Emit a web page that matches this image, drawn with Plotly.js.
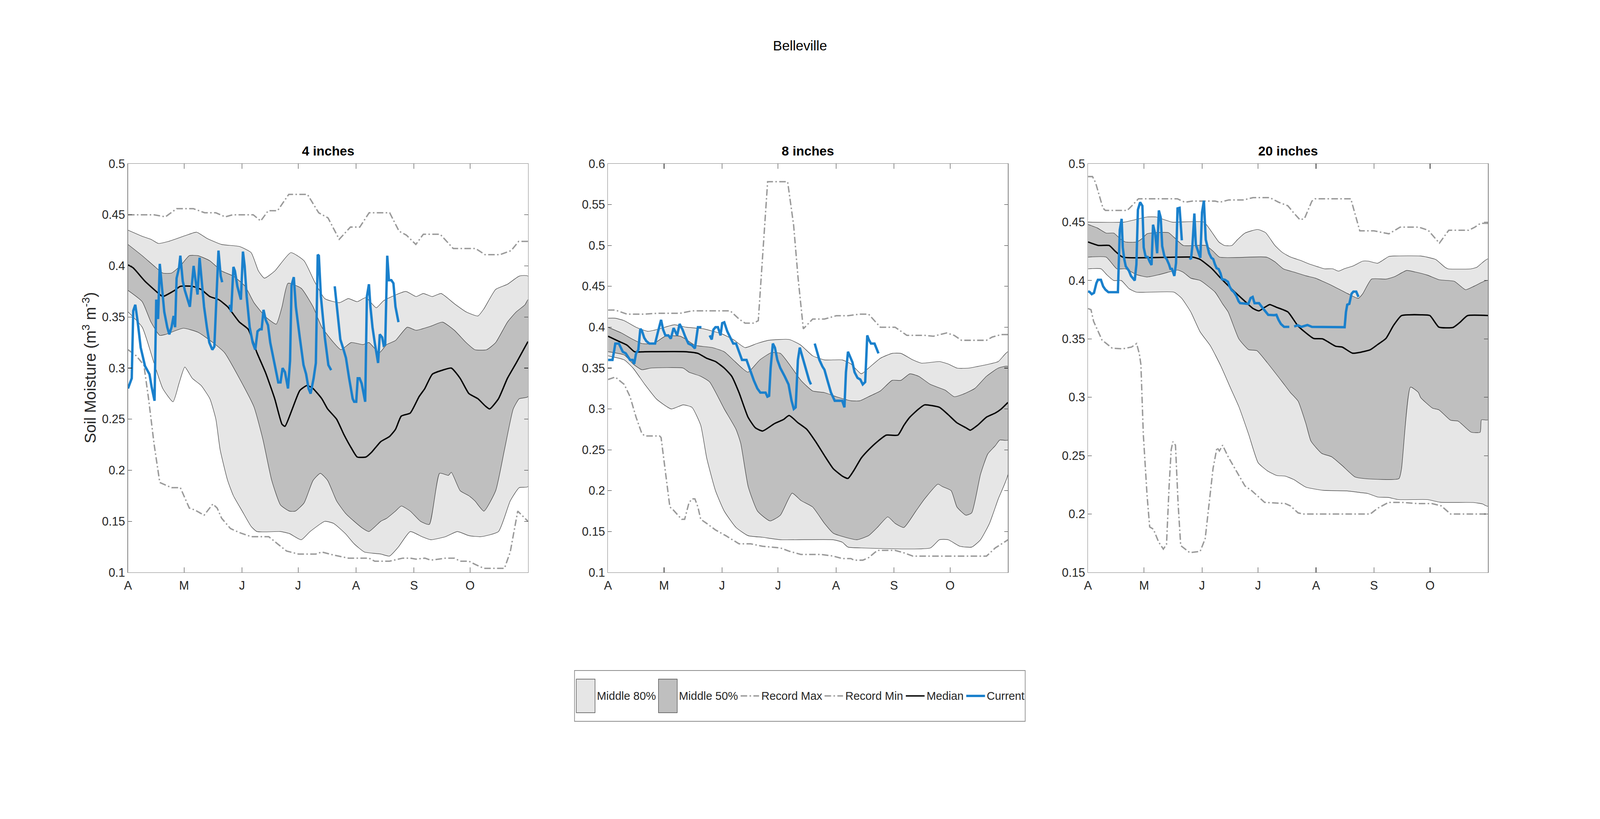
<!DOCTYPE html>
<html>
<head>
<meta charset="utf-8">
<script src="https://cdn.plot.ly/plotly-3.0.1.min.js"></script>
<style>
  html, body { margin: 0; padding: 0; background: #fff; overflow: hidden; }
</style>
</head>
<body>
<div id="chart"></div>
<script>
// x is days since April 1
const monthStarts = [0, 30, 61, 91, 122, 153, 183];
const monthLabels = ["A", "M", "J", "J", "A", "S", "O"];

// ---- 4 inches ----
const s4MaxDay = [0, 14, 20, 26, 35, 41, 47, 52, 56, 67, 71, 75, 80, 86, 96, 102, 107, 113, 119, 124, 129, 140, 145, 149, 154, 158, 167, 174, 186, 191, 199, 205, 209, 214];
const s4Max = [0.450, 0.450, 0.448, 0.456, 0.456, 0.452, 0.452, 0.448, 0.450, 0.450, 0.444, 0.454, 0.454, 0.470, 0.470, 0.452, 0.447, 0.426, 0.438, 0.438, 0.452, 0.452, 0.434, 0.430, 0.421, 0.431, 0.431, 0.417, 0.417, 0.411, 0.411, 0.415, 0.424, 0.424];
const s4MinDay = [0, 4.4, 8.5, 11, 14, 17, 23.3, 28, 32.8, 35.9, 40.7, 45.4, 47.7, 50.1, 54.8, 59.6, 65.9, 75.3, 80, 84.8, 91.1, 100.5, 103.7, 110, 117.9, 128.9, 132, 139.9, 147, 151, 154.1, 158.8, 162, 169.9, 174.6, 177.7, 182.4, 185.6, 190.4, 201.4, 204.5, 208.5, 214];
const s4Min = [0.318, 0.312, 0.303, 0.270, 0.225, 0.188, 0.183, 0.183, 0.163, 0.161, 0.156, 0.167, 0.163, 0.153, 0.143, 0.139, 0.135, 0.135, 0.128, 0.121, 0.118, 0.118, 0.120, 0.117, 0.114, 0.114, 0.111, 0.111, 0.114, 0.114, 0.113, 0.114, 0.112, 0.114, 0.114, 0.111, 0.111, 0.108, 0.104, 0.104, 0.120, 0.160, 0.150];
const s4Hi80Day = [0, 7.6, 12.3, 16.2, 21.7, 31.2, 36.7, 42.2, 50.1, 59.6, 65.9, 69.8, 73, 78.5, 87.1, 94.2, 99.7, 105.3, 113.1, 117.9, 122.6, 127.3, 132.8, 136.8, 148.6, 154.1, 158, 162.8, 167.5, 174.6, 180.9, 187.2, 190.4, 196.7, 203, 209.3, 214];
const s4Hi80 = [0.435, 0.429, 0.426, 0.422, 0.424, 0.430, 0.433, 0.427, 0.421, 0.419, 0.413, 0.395, 0.388, 0.395, 0.413, 0.405, 0.385, 0.368, 0.364, 0.368, 0.365, 0.369, 0.359, 0.366, 0.375, 0.370, 0.373, 0.370, 0.373, 0.363, 0.355, 0.351, 0.358, 0.377, 0.382, 0.390, 0.390];
const s4Lo80Day = [0, 7.6, 13.9, 18.6, 24.1, 27.3, 30.4, 34.4, 39.1, 43.8, 47, 49.3, 53.3, 56.4, 61.1, 65.9, 69, 81.6, 86.4, 92.7, 97.4, 105.3, 110, 116.3, 121, 126.5, 135.2, 139.9, 144.7, 151, 157.3, 162, 169.9, 176.2, 182.4, 188.8, 198.2, 204.5, 209.3, 214];
const s4Lo80 = [0.355, 0.340, 0.305, 0.280, 0.267, 0.285, 0.301, 0.290, 0.283, 0.270, 0.250, 0.220, 0.190, 0.175, 0.160, 0.145, 0.140, 0.140, 0.138, 0.132, 0.140, 0.150, 0.148, 0.138, 0.128, 0.120, 0.118, 0.116, 0.125, 0.140, 0.135, 0.132, 0.135, 0.140, 0.136, 0.135, 0.140, 0.170, 0.183, 0.184];
const s4Hi50Day = [0, 7.6, 13.9, 18.6, 23.3, 28, 32.8, 37.5, 43.8, 50.1, 56.4, 62.7, 67.4, 73.7, 79.3, 82.4, 85.6, 92.7, 99, 103.7, 110, 113.9, 119.4, 125.7, 128.9, 134.4, 138.4, 143.1, 149.4, 154.1, 162, 168.3, 174.6, 180.9, 185.6, 191.9, 196.7, 203, 207.7, 212.4, 214];
const s4Hi50 = [0.421, 0.410, 0.400, 0.393, 0.393, 0.400, 0.410, 0.410, 0.405, 0.395, 0.390, 0.380, 0.364, 0.350, 0.343, 0.360, 0.383, 0.378, 0.360, 0.340, 0.325, 0.318, 0.325, 0.323, 0.325, 0.315, 0.323, 0.327, 0.340, 0.337, 0.341, 0.345, 0.337, 0.325, 0.318, 0.318, 0.325, 0.345, 0.355, 0.362, 0.367];
const s4Lo50Day = [0, 7.6, 12.3, 17, 20.2, 29.6, 37.5, 45.4, 51.7, 59.6, 67.4, 72.2, 76.9, 81.6, 86.4, 89.5, 94.2, 99, 102.9, 106.8, 111.6, 116.3, 121, 125.7, 128.9, 135.2, 138.4, 143.1, 146.2, 151, 156.5, 161.2, 166.7, 171.4, 173, 177.7, 182.4, 185.6, 190.4, 196.7, 201.4, 206.1, 209.3, 214];
const s4Lo50 = [0.376, 0.365, 0.345, 0.332, 0.333, 0.339, 0.335, 0.325, 0.315, 0.290, 0.262, 0.230, 0.190, 0.166, 0.160, 0.160, 0.168, 0.190, 0.197, 0.190, 0.170, 0.158, 0.150, 0.143, 0.140, 0.150, 0.153, 0.160, 0.165, 0.160, 0.150, 0.147, 0.197, 0.195, 0.198, 0.180, 0.175, 0.170, 0.160, 0.180, 0.220, 0.260, 0.270, 0.272];
const s4MedDay = [0, 2.8, 9.1, 17, 18.6, 24.9, 28, 34.4, 39.1, 43.8, 48.5, 53.3, 59.6, 64.3, 69, 73.7, 78.5, 82.4, 84, 87.9, 91.9, 95.8, 99, 103.7, 106.8, 111.6, 115.5, 119.4, 122.6, 127.3, 130.5, 135.2, 139.9, 143.1, 146.2, 151, 155.7, 158.8, 162.8, 168.3, 173, 177.7, 182.4, 187.2, 191.1, 193.5, 198.2, 203, 207.7, 211.6, 214];
const s4Med = [0.401, 0.398, 0.385, 0.372, 0.370, 0.376, 0.380, 0.380, 0.377, 0.370, 0.367, 0.360, 0.345, 0.338, 0.315, 0.295, 0.270, 0.245, 0.243, 0.260, 0.278, 0.283, 0.280, 0.270, 0.260, 0.250, 0.235, 0.222, 0.213, 0.213, 0.218, 0.228, 0.233, 0.240, 0.253, 0.256, 0.272, 0.280, 0.294, 0.298, 0.300, 0.290, 0.275, 0.270, 0.263, 0.260, 0.270, 0.290, 0.305, 0.318, 0.326];
const s4CurDay = [0, 2, 2.8, 3.9, 5.2, 6.8, 9.1, 11.5, 12.6, 14.2, 15.1, 16.1, 17, 18.3, 19.4, 21, 22.1, 23.3, 24.4, 25.2, 26, 27.3, 28, 29.3, 30.4, 33.1, 34.4, 35.1, 36.2, 37.2, 38.3, 39.4, 40.7, 42.2, 43.5, 45.1, 46.2, 48.4, 49.6, 50.4, null,
  54.4, 55.2, 56.4, 57.2, 58.5, 60.4, 61.5, 62.4, 63.5, 65.1, 66.7, 68.1, 69.3, 70.6, 71.5, 72.5, 73.7, 74.9, 76.1, 78.5, 80.4, 81.6, 82.7, 84, 85.6, 86.7, 87.5, 88.7, 89.8, 91.9, 93.9, 95.3, 96.6, 97.7, 99.3, 100.5, 101.5, 102.1, 103.2, 105.3, 107.2, 108.7, null,
  110.6, 112, 113.6, 115, 116.6, 118.3, 120.2, 121, 122.1, 122.9, 123.9, 125, 126.1, 126.9, 127.8, 128.9, 129.7, 130.8, 132, 132.8, 133.8, 134.7, 136, 136.8, 137.6, 138.7, 139.6, 140.9, 142, 143.1, 144.7];
const s4Cur = [0.280, 0.290, 0.356, 0.362, 0.345, 0.320, 0.302, 0.294, 0.282, 0.268, 0.367, 0.348, 0.402, 0.375, 0.355, 0.340, 0.333, 0.340, 0.351, 0.340, 0.388, 0.398, 0.410, 0.385, 0.376, 0.360, 0.385, 0.400, 0.385, 0.372, 0.408, 0.385, 0.360, 0.340, 0.325, 0.318, 0.321, 0.415, 0.390, 0.384, null,
  0.362, 0.355, 0.399, 0.395, 0.380, 0.367, 0.414, 0.400, 0.370, 0.340, 0.325, 0.318, 0.336, 0.338, 0.338, 0.357, 0.347, 0.342, 0.325, 0.303, 0.286, 0.286, 0.300, 0.296, 0.280, 0.307, 0.381, 0.389, 0.360, 0.330, 0.303, 0.294, 0.280, 0.275, 0.290, 0.305, 0.411, 0.410, 0.370, 0.330, 0.303, 0.298, null,
  0.380, 0.355, 0.328, 0.320, 0.310, 0.290, 0.270, 0.267, 0.267, 0.290, 0.290, 0.285, 0.275, 0.267, 0.370, 0.382, 0.360, 0.340, 0.325, 0.315, 0.305, 0.333, 0.330, 0.322, 0.323, 0.410, 0.386, 0.386, 0.383, 0.360, 0.345];

// ---- 8 inches ----
const s8MaxDay = [0, 3.9, 10.2, 19.7, 26, 38.6, 44.9, 65.4, 70.1, 73.3, 78, 80.4, 85.4, 96.1, 99.3, 101.7, 104.5, 109.5, 115.8, 122.1, 128.4, 134.7, 139.4, 142.6, 145.7, 153.6, 159.9, 169.4, 174.1, 181.2, 185.2, 189.1, 202.5, 205.6, 210.4, 214];
const s8Max = [0.421, 0.421, 0.416, 0.416, 0.417, 0.417, 0.420, 0.420, 0.410, 0.405, 0.405, 0.408, 0.578, 0.578, 0.525, 0.460, 0.398, 0.410, 0.410, 0.414, 0.414, 0.416, 0.416, 0.408, 0.400, 0.400, 0.390, 0.390, 0.389, 0.393, 0.390, 0.384, 0.384, 0.388, 0.391, 0.391];
const s8MinDay = [0, 3.9, 8.7, 11.8, 15, 18.1, 19.7, 27.6, 28.4, 30.4, 33.1, 34.7, 39.4, 41, 43.3, 44.9, 46.5, 48.1, 49.6, 52.8, 57.5, 63, 70.1, 76.4, 82.7, 92.2, 96.9, 103.2, 114.2, 120.5, 125.3, 130, 131.6, 136.3, 139.4, 144.1, 153.6, 158.3, 163.1, 202.5, 207.2, 212.7, 214];
const s8Min = [0.336, 0.339, 0.330, 0.315, 0.290, 0.270, 0.267, 0.267, 0.265, 0.230, 0.180, 0.177, 0.165, 0.165, 0.185, 0.190, 0.190, 0.180, 0.165, 0.160, 0.152, 0.145, 0.135, 0.135, 0.132, 0.130, 0.126, 0.122, 0.122, 0.120, 0.117, 0.117, 0.115, 0.115, 0.118, 0.127, 0.127, 0.124, 0.120, 0.120, 0.130, 0.138, 0.140];
const s8Hi80Day = [0, 3.9, 8.7, 15, 21.3, 27.6, 35.5, 41.8, 51.2, 60.7, 67, 73.3, 79.6, 85.9, 96.9, 103.2, 109.5, 115.8, 125.3, 130, 135.5, 139.4, 145.7, 152, 156.7, 163.1, 167.8, 177.3, 182, 186.7, 193, 197.7, 204.1, 208.8, 214];
const s8Hi80 = [0.411, 0.411, 0.408, 0.400, 0.395, 0.398, 0.403, 0.400, 0.398, 0.392, 0.385, 0.375, 0.380, 0.384, 0.385, 0.378, 0.365, 0.360, 0.360, 0.355, 0.343, 0.350, 0.362, 0.368, 0.368, 0.360, 0.356, 0.358, 0.355, 0.350, 0.350, 0.352, 0.355, 0.358, 0.370];
const s8Lo80Day = [0, 8.7, 13.4, 19.7, 26, 33.9, 40.2, 44.9, 49.6, 52.8, 57.5, 62.2, 68.5, 74.9, 82.7, 92.2, 120.5, 125.3, 128.4, 135.5, 172.5, 177.3, 182, 188.3, 194.6, 199.3, 204.1, 208.8, 214];
const s8Lo80 = [0.365, 0.360, 0.350, 0.330, 0.312, 0.300, 0.305, 0.302, 0.280, 0.240, 0.200, 0.175, 0.155, 0.145, 0.143, 0.140, 0.140, 0.137, 0.131, 0.130, 0.130, 0.140, 0.140, 0.132, 0.131, 0.140, 0.160, 0.190, 0.220];
const s8Hi50Day = [0, 7.1, 13.4, 18.1, 24.4, 30.7, 38.6, 41.8, 46.5, 56, 62.2, 67, 71.7, 74.9, 81.2, 87.5, 92.2, 96.9, 103.2, 109.5, 115.8, 122.1, 130, 134.7, 139.4, 145.7, 152, 156.7, 161.5, 166.2, 172.5, 180.4, 185.2, 189.9, 196.2, 202.5, 208.8, 214];
const s8Hi50 = [0.400, 0.393, 0.385, 0.380, 0.380, 0.389, 0.389, 0.385, 0.378, 0.375, 0.370, 0.360, 0.350, 0.345, 0.360, 0.369, 0.368, 0.355, 0.335, 0.322, 0.320, 0.315, 0.310, 0.310, 0.315, 0.322, 0.335, 0.335, 0.343, 0.340, 0.330, 0.323, 0.315, 0.318, 0.325, 0.340, 0.350, 0.352];
const s8Lo50Day = [0, 8.7, 13.4, 18.1, 22.9, 40.2, 43.3, 49.6, 54.4, 62.2, 68.5, 71, 75, 80, 86.7, 92.2, 98.5, 103.2, 109.5, 115.8, 120.5, 126.9, 133.2, 139.4, 144.1, 149.7, 153.6, 158.3, 164.7, 169.4, 176.5, 178.9, 183.6, 186.7, 191.5, 194.6, 199.3, 203.2, 207.2, 209.6, 214];
const s8Lo50 = [0.370, 0.366, 0.355, 0.348, 0.350, 0.350, 0.345, 0.340, 0.333, 0.300, 0.275, 0.258, 0.205, 0.175, 0.163, 0.170, 0.197, 0.188, 0.180, 0.160, 0.148, 0.143, 0.140, 0.145, 0.155, 0.168, 0.160, 0.155, 0.175, 0.190, 0.208, 0.205, 0.200, 0.180, 0.170, 0.173, 0.220, 0.245, 0.255, 0.262, 0.262];
const s8MedDay = [0, 5.5, 10.2, 14.2, 19.7, 41.8, 48.1, 52.8, 57.5, 62.2, 66.2, 70.1, 74.9, 78.8, 82.7, 89, 93.8, 96.9, 101.7, 106.4, 111.1, 115.8, 120.5, 125.3, 128.4, 131.6, 135.5, 139.4, 144.1, 148.9, 155.1, 158.3, 161.5, 166.2, 169.4, 177.3, 182, 186.7, 191.5, 193.8, 197.7, 202.5, 207.2, 210.4, 214];
const s8Med = [0.389, 0.383, 0.378, 0.370, 0.370, 0.370, 0.368, 0.362, 0.358, 0.350, 0.340, 0.320, 0.290, 0.277, 0.273, 0.282, 0.287, 0.292, 0.283, 0.275, 0.260, 0.243, 0.227, 0.218, 0.215, 0.225, 0.240, 0.250, 0.260, 0.268, 0.268, 0.280, 0.290, 0.300, 0.305, 0.302, 0.293, 0.283, 0.277, 0.274, 0.280, 0.290, 0.295, 0.300, 0.308];
const s8CurDay = [0, 2.4, 3.2, 3.9, 5.8, 7.9, 9.5, 11.8, 13.1, 14, 15, 16.2, 17.3, 18.1, 19.4, 20.5, 22.1, 25.2, 26.8, 28.4, 29.5, 30.7, 32.3, 33.6, 35.1, 37, 38.3, 39.9, 41.4, 43, 44.9, 46.5, 48.1, 50, null,
  54.4, 55.5, 56.4, 57.5, 58.8, 60.2, 61.1, 62.2, 63.8, 65.4, 67, 68.5, 70.1, 71.7, 74.1, 76.4, 78, 79.9, 81.5, 84.3, 85.3, 86.2, 87, 88.2, 89.3, 90.6, 92.2, 94.5, 96.6, 98.2, 99.4, 100.4, 101.6, 102.6, 103.8, 105.6, 106.7, 107.6, 108.6, null,
  110.6, 111.9, 113.1, 114.7, 115.8, 117.4, 119.3, 121.3, 125.3, 126.5, 127.3, 128.4, 130, 130.8, 131.9, 133.5, 135, 136.3, 137.6, 138.7, 139.5, 140.7, 142.6, 144.7];
const s8Cur = [0.360, 0.360, 0.370, 0.380, 0.380, 0.370, 0.368, 0.360, 0.360, 0.355, 0.368, 0.372, 0.398, 0.396, 0.387, 0.383, 0.380, 0.380, 0.395, 0.409, 0.397, 0.390, 0.390, 0.386, 0.399, 0.390, 0.404, 0.397, 0.388, 0.380, 0.378, 0.374, 0.400, 0.400, null,
  0.390, 0.385, 0.397, 0.400, 0.400, 0.390, 0.405, 0.406, 0.395, 0.388, 0.380, 0.380, 0.370, 0.360, 0.360, 0.345, 0.335, 0.325, 0.320, 0.320, 0.315, 0.316, 0.350, 0.380, 0.375, 0.360, 0.350, 0.340, 0.330, 0.310, 0.300, 0.302, 0.360, 0.375, 0.365, 0.350, 0.340, 0.335, 0.330, null,
  0.380, 0.370, 0.360, 0.352, 0.348, 0.335, 0.320, 0.310, 0.310, 0.302, 0.345, 0.370, 0.362, 0.357, 0.345, 0.338, 0.336, 0.330, 0.333, 0.390, 0.385, 0.380, 0.380, 0.368];

// ---- 20 inches ----
const s20MaxDay = [0, 2.4, 4, 6, 8, 9.3, 21, 23.5, 27, 47.8, 51.8, 55.9, 68, 70.4, 75.3, 83.4, 88.3, 97.2, 102, 106.9, 110, 113.4, 115.8, 119.8, 121.5, 140.6, 145.4, 153, 161, 167, 177, 182, 188, 193, 203.6, 207, 210, 214];
const s20Max = [0.489, 0.489, 0.484, 0.473, 0.462, 0.460, 0.460, 0.464, 0.470, 0.470, 0.467, 0.468, 0.468, 0.467, 0.469, 0.469, 0.471, 0.471, 0.467, 0.464, 0.458, 0.452, 0.453, 0.468, 0.470, 0.470, 0.4425, 0.4425, 0.440, 0.4457, 0.4457, 0.443, 0.432, 0.443, 0.443, 0.4457, 0.449, 0.449];
const s20MinDay = [0, 1.6, 3, 7.5, 13, 18.5, 23.3, 26, 27.5, 28.3, 29.6, 31.6, 33, 35, 37.8, 40.3, 42, 43.4, 44.5, 45.4, 46.8, 48.2, 49.6, 54.4, 60, 62.7, 64.8, 66.9, 69, 70.3, 72, 75, 79.3, 84, 87.6, 90.3, 94.5, 105.5, 108.3, 112.4, 115, 151, 155, 160.8, 167.7, 176, 184, 189, 194, 214];
const s20Min = [0.376, 0.375, 0.365, 0.349, 0.342, 0.3415, 0.343, 0.346, 0.337, 0.328, 0.268, 0.216, 0.189, 0.187, 0.176, 0.170, 0.174, 0.224, 0.255, 0.262, 0.259, 0.209, 0.173, 0.167, 0.168, 0.179, 0.209, 0.239, 0.257, 0.254, 0.259, 0.249, 0.237, 0.224, 0.220, 0.216, 0.210, 0.209, 0.207, 0.201, 0.200, 0.200, 0.205, 0.210, 0.210, 0.209, 0.209, 0.207, 0.200, 0.200];
const s20Hi80Day = [0, 19.4, 25, 31.6, 36.4, 41, 45, 62, 66, 70, 73, 77, 80, 84, 90.7, 95, 100, 104, 108.5, 114, 118.6, 123, 126.5, 131, 134, 137, 142, 147, 150, 155, 161, 164, 178, 181.5, 186, 191, 192.6, 205, 208, 211, 214];
const s20Hi80 = [0.450, 0.450, 0.452, 0.4544, 0.4544, 0.452, 0.450, 0.450, 0.442, 0.433, 0.430, 0.430, 0.435, 0.4406, 0.4437, 0.441, 0.430, 0.424, 0.420, 0.417, 0.414, 0.4117, 0.410, 0.410, 0.408, 0.410, 0.4126, 0.4166, 0.4166, 0.4148, 0.4206, 0.421, 0.421, 0.420, 0.418, 0.4113, 0.410, 0.410, 0.4113, 0.4153, 0.4185];
const s20Lo80Day = [0, 7, 10, 13.8, 17.8, 22, 26, 46, 50, 55, 60, 65.5, 71, 76.5, 80.7, 86, 91, 96, 101, 105.5, 110, 116.6, 126, 138.7, 145.6, 149.7, 155, 160.8, 166, 181.5, 188.4, 206, 211, 214];
const s20Lo80 = [0.410, 0.410, 0.405, 0.400, 0.400, 0.393, 0.390, 0.390, 0.385, 0.373, 0.356, 0.344, 0.327, 0.307, 0.292, 0.268, 0.244, 0.237, 0.233, 0.2325, 0.2296, 0.223, 0.2203, 0.2198, 0.2184, 0.2176, 0.2146, 0.2142, 0.2124, 0.2124, 0.2101, 0.2099, 0.2087, 0.2067];
const s20Hi50Day = [0, 5, 9.7, 13.8, 17, 20, 26, 29, 31.6, 36, 43, 46, 51, 63, 67, 70.4, 95.5, 100, 104.5, 110, 116.6, 121.7, 126, 131, 139, 144.6, 147, 151.7, 159.5, 164, 170.5, 175, 181.6, 188, 196, 202, 206.8, 214];
const s20Hi50 = [0.448, 0.445, 0.4406, 0.4406, 0.436, 0.433, 0.433, 0.436, 0.440, 0.441, 0.441, 0.437, 0.430, 0.430, 0.425, 0.420, 0.420, 0.416, 0.410, 0.4073, 0.404, 0.402, 0.399, 0.3953, 0.3887, 0.3847, 0.3887, 0.4012, 0.4012, 0.4033, 0.4086, 0.4073, 0.4046, 0.4006, 0.3993, 0.3921, 0.3953, 0.400];
const s20Lo50Day = [0, 9.7, 15.4, 20, 26, 31.6, 38, 45, 48, 51, 55, 60, 68, 72, 75, 80.7, 86, 90.3, 95.9, 104, 108.3, 112.4, 116.6, 119.3, 125, 130.4, 136, 142.8, 148.3, 166.3, 167.7, 172.5, 176.7, 178, 184.3, 187.7, 194, 198, 205, 209.8, 210.5, 214];
const s20Lo50 = [0.420, 0.420, 0.410, 0.410, 0.405, 0.403, 0.405, 0.408, 0.409, 0.407, 0.402, 0.400, 0.390, 0.380, 0.373, 0.350, 0.3407, 0.340, 0.3296, 0.313, 0.304, 0.2967, 0.2773, 0.2624, 0.252, 0.249, 0.2415, 0.2318, 0.2303, 0.2303, 0.2385, 0.3087, 0.3042, 0.2997, 0.2907, 0.2893, 0.2803, 0.2796, 0.2701, 0.2701, 0.2807, 0.2807];
const s20MedDay = [0, 5.7, 11.3, 14.6, 18.6, 56, 60, 66.4, 70.4, 76, 83.4, 88.3, 91.5, 94.5, 97.2, 101, 107, 112.4, 120.7, 125.5, 132.5, 136, 141.4, 145.6, 151, 155, 159.4, 163.5, 167.7, 171.8, 178, 182.9, 187.7, 195.3, 198.8, 203, 214];
const s20Med = [0.433, 0.430, 0.430, 0.425, 0.420, 0.420, 0.418, 0.410, 0.403, 0.394, 0.383, 0.376, 0.374, 0.377, 0.3794, 0.377, 0.373, 0.361, 0.3504, 0.350, 0.3437, 0.343, 0.3378, 0.3385, 0.3407, 0.3452, 0.3504, 0.3616, 0.3699, 0.3706, 0.3706, 0.370, 0.3601, 0.3598, 0.3639, 0.3699, 0.370];
const s20CurDay = [0, 0.8, 2, 3.2, 4.5, 5.3, 6.9, 8.1, 9.3, 10.9, 16, 16.6, 17, 18, 18.6, 19.4, 20.2, 21.9, 23, 25, 25.9, 26.7, 27.9, 29.1, 29.8, 30.8, 32, 33, 34, 34.8, 36, 37, 37.9, 38.9, 39.7, 40.9, 42.1, 43.3, 44.1, 44.9, 46.2, 47.1, 47.9, 49, 50.2, null,
  54.3, 55.1, 55.9, 56.9, 57.7, 58.7, 60.1, 61, 62, 63, 64, 64.8, 66, 67, 67.9, 68.8, 69.9, 70.9, 71.7, 73.3, 74.9, 75.7, 76.9, 78.1, 79.4, 80.6, 81.4, 85.8, 87, 88.1, 89.1, 91.5, 93.1, 94.7, 96.4, 99.6, 100.8, 102, 103.2, 104.9, 107.7, null,
  110.3, 112.2, 114.2, 115.8, 117.4, 119.8, 137.3, 138, 138.7, 139.8, 141, 142, 143.5, 144.7];
const s20Cur = [0.3906, 0.3903, 0.3883, 0.3894, 0.3978, 0.4006, 0.4006, 0.395, 0.3922, 0.390, 0.390, 0.4283, 0.4433, 0.4528, 0.4283, 0.4183, 0.4122, 0.4083, 0.4039, 0.400, 0.4139, 0.4606, 0.467, 0.4639, 0.4283, 0.4206, 0.420, 0.4161, 0.4133, 0.4478, 0.4394, 0.4233, 0.460, 0.4539, 0.4294, 0.4206, 0.4183, 0.4139, 0.410, 0.410, 0.4039, 0.415, 0.4617, 0.4622, 0.4344, null,
  0.4194, 0.4183, 0.4306, 0.4574, 0.4306, 0.4261, 0.4194, 0.4583, 0.4683, 0.435, 0.4294, 0.4233, 0.4194, 0.4183, 0.4139, 0.4106, 0.4097, 0.4061, 0.4011, 0.4006, 0.3989, 0.395, 0.3917, 0.390, 0.3867, 0.3822, 0.3806, 0.380, 0.385, 0.3859, 0.3806, 0.3806, 0.3772, 0.3739, 0.3706, 0.3703, 0.3706, 0.3661, 0.3628, 0.3603, 0.3603, null,
  0.3606, 0.3617, 0.3603, 0.3611, 0.3619, 0.3603, 0.360, 0.373, 0.3793, 0.380, 0.3887, 0.3905, 0.3905, 0.386];

const panels = [
  { title: "4 inches", yRange: [0.1, 0.5], dom: [0.08, 0.33],
    max: [s4MaxDay, s4Max], min: [s4MinDay, s4Min], hi80: [s4Hi80Day, s4Hi80], lo80: [s4Lo80Day, s4Lo80],
    hi50: [s4Hi50Day, s4Hi50], lo50: [s4Lo50Day, s4Lo50], med: [s4MedDay, s4Med], cur: [s4CurDay, s4Cur] },
  { title: "8 inches", yRange: [0.1, 0.6], dom: [0.38, 0.63],
    max: [s8MaxDay, s8Max], min: [s8MinDay, s8Min], hi80: [s8Hi80Day, s8Hi80], lo80: [s8Lo80Day, s8Lo80],
    hi50: [s8Hi50Day, s8Hi50], lo50: [s8Lo50Day, s8Lo50], med: [s8MedDay, s8Med], cur: [s8CurDay, s8Cur] },
  { title: "20 inches", yRange: [0.15, 0.5], dom: [0.68, 0.93],
    max: [s20MaxDay, s20Max], min: [s20MinDay, s20Min], hi80: [s20Hi80Day, s20Hi80], lo80: [s20Lo80Day, s20Lo80],
    hi50: [s20Hi50Day, s20Hi50], lo50: [s20Lo50Day, s20Lo50], med: [s20MedDay, s20Med], cur: [s20CurDay, s20Cur] }
];

// design grid is 5375 x 2096; the window may be narrower, so scale each direction
const W = window.innerWidth || 5375;
const H = window.innerHeight || 2096;
const kx = W / 5375, ky = H / 2096;
const kl = (kx + ky) / 2;
const fx = (x) => x / 5375;
const fy = (y) => 1 - y / 2096;

function hasFont(name) {
  const c = document.createElement("canvas").getContext("2d");
  const t = "Middle 80% Record Max";
  c.font = "40px monospace";
  const a = c.measureText(t).width;
  c.font = '40px "' + name + '", monospace';
  return Math.abs(c.measureText(t).width - a) > 1;
}
// a squeezed window keeps text widths right with the narrow face
const useNarrow = kx / ky < 0.9 && hasFont("Liberation Sans Narrow");
const family = useNarrow ? "Liberation Sans Narrow, Liberation Sans, Arial, sans-serif"
                         : "Liberation Sans, Arial, sans-serif";
const kf = useNarrow ? Math.min(ky, kx / 0.82) : Math.min(kx, ky);
const fs = (v) => v * kf;

const light = "#e6e6e6", dark = "#bfbfbf", edge = "#333333";
const recColor = "#999999", medColor = "#000000", curColor = "#1a80cc";
const recDash = [22, 8, 5, 8].map(v => (v * kx) + "px").join(",");

function band(hi, lo) {
  return {
    x: hi[0].concat(lo[0].slice().reverse()),
    y: hi[1].concat(lo[1].slice().reverse())
  };
}

let traces = [];
let annotations = [];
let shapes = [];
let layout = {
  width: W,
  height: H,
  margin: { l: 0, r: 0, t: 0, b: 0 },
  paper_bgcolor: "#fff",
  plot_bgcolor: "#fff",
  showlegend: false,
  font: { family: family, size: fs(40), color: "#262626" },
  title: { text: "Belleville", x: 0.5, xanchor: "center", y: fy(117), yanchor: "middle",
           font: { family: family, size: fs(46), color: "#000" } }
};

panels.forEach((p, i) => {
  const s = i === 0 ? "" : String(i + 1);
  const xa = "x" + s, ya = "y" + s;
  const b80 = band(p.hi80, p.lo80);
  const b50 = band(p.hi50, p.lo50);
  const common = { type: "scatter", mode: "lines", xaxis: xa, yaxis: ya, hoverinfo: "skip" };

  traces.push(Object.assign({}, common, {
    x: b80.x, y: b80.y, fill: "toself", fillcolor: light, name: "Middle 80%",
    line: { color: edge, width: 1.3 * kl, shape: "spline", smoothing: 0.5 }
  }));
  traces.push(Object.assign({}, common, {
    x: b50.x, y: b50.y, fill: "toself", fillcolor: dark, name: "Middle 50%",
    line: { color: edge, width: 1.3 * kl, shape: "spline", smoothing: 0.5 }
  }));
  traces.push(Object.assign({}, common, {
    x: p.max[0], y: p.max[1], name: "Record Max",
    line: { color: recColor, width: 4 * kl, dash: recDash }
  }));
  traces.push(Object.assign({}, common, {
    x: p.min[0], y: p.min[1], name: "Record Min",
    line: { color: recColor, width: 4 * kl, dash: recDash }
  }));
  traces.push(Object.assign({}, common, {
    x: p.med[0], y: p.med[1], name: "Median",
    line: { color: medColor, width: 4 * kl, shape: "spline", smoothing: 0.5 }
  }));
  traces.push(Object.assign({}, common, {
    x: p.cur[0], y: p.cur[1], name: "Current", connectgaps: false,
    line: { color: curColor, width: 7 * kl }
  }));

  const axisStyle = {
    showline: true, linecolor: "#808080", linewidth: 1.5 * kl, mirror: "ticks",
    ticks: "inside", tickwidth: 1.3 * kl, tickcolor: "#262626",
    showgrid: false, zeroline: false, tickfont: { family: family, size: fs(40), color: "#262626" }
  };
  layout["xaxis" + s] = Object.assign({}, axisStyle, {
    domain: p.dom, anchor: ya, range: [0, 214], ticklen: 13 * ky,
    tickmode: "array", tickvals: monthStarts, ticktext: monthLabels, ticklabelstandoff: 6 * ky
  });
  layout["yaxis" + s] = Object.assign({}, axisStyle, {
    domain: [fy(1465), fy(419)], anchor: xa, range: p.yRange, ticklen: 13 * kx,
    dtick: 0.05, tick0: 0, tickformat: ".2~f", ticklabelstandoff: 8 * kx
  });

  annotations.push({
    xref: "paper", yref: "paper", x: (p.dom[0] + p.dom[1]) / 2, y: fy(387),
    xanchor: "center", yanchor: "middle", showarrow: false, text: p.title,
    font: { family: family, size: fs(44), color: "#000", weight: "bold" }
  });
});

// rotated label: its length runs down the page, so it follows the vertical scale
annotations.push({
  xref: "paper", yref: "paper", x: fx(300), y: fy(941), textangle: -90,
  xanchor: "center", yanchor: "middle", showarrow: false,
  text: "Soil Moisture (m<sup>3</sup> m<sup>-3</sup>)",
  font: { family: "Liberation Sans, Arial, sans-serif", size: 40 * ky, color: "#262626" }
});

// legend box below the panels
const legendRow = 1781;
shapes.push({ type: "rect", xref: "paper", yref: "paper", x0: fx(1930), x1: fx(3444), y0: fy(1846), y1: fy(1716),
              line: { color: "#8c8c8c", width: 2 * kl }, fillcolor: "#fff", layer: "below" });
const legendItems = [
  { name: "Middle 80%", kind: "patch", color: light, x0: 1936, x1: 1999, tx: 2004 },
  { name: "Middle 50%", kind: "patch", color: dark, x0: 2212, x1: 2275, tx: 2280 },
  { name: "Record Max", kind: "line", color: recColor, width: 4, dash: recDash, x0: 2488, x1: 2550, tx: 2556 },
  { name: "Record Min", kind: "line", color: recColor, width: 4, dash: recDash, x0: 2770, x1: 2832, tx: 2838 },
  { name: "Median", kind: "line", color: medColor, width: 4, x0: 3043, x1: 3106, tx: 3111 },
  { name: "Current", kind: "line", color: curColor, width: 7, x0: 3246, x1: 3309, tx: 3314 }
];
legendItems.forEach(it => {
  if (it.kind === "patch") {
    shapes.push({ type: "rect", xref: "paper", yref: "paper", x0: fx(it.x0), x1: fx(it.x1),
                  y0: fy(1824), y1: fy(1738), fillcolor: it.color, line: { color: "#4d4d4d", width: 1.5 * kl } });
  } else {
    shapes.push({ type: "line", xref: "paper", yref: "paper", x0: fx(it.x0), x1: fx(it.x1),
                  y0: fy(legendRow), y1: fy(legendRow),
                  line: { color: it.color, width: it.width * kl, dash: it.dash || "solid" } });
  }
  annotations.push({ xref: "paper", yref: "paper", x: fx(it.tx), y: fy(legendRow),
                     xanchor: "left", yanchor: "middle", showarrow: false, text: it.name,
                     borderpad: 0, font: { family: family, size: fs(38), color: "#262626" } });
});

layout.annotations = annotations;
layout.shapes = shapes;

Plotly.newPlot("chart", traces, layout, { displayModeBar: false, staticPlot: true });
</script>
</body>
</html>
